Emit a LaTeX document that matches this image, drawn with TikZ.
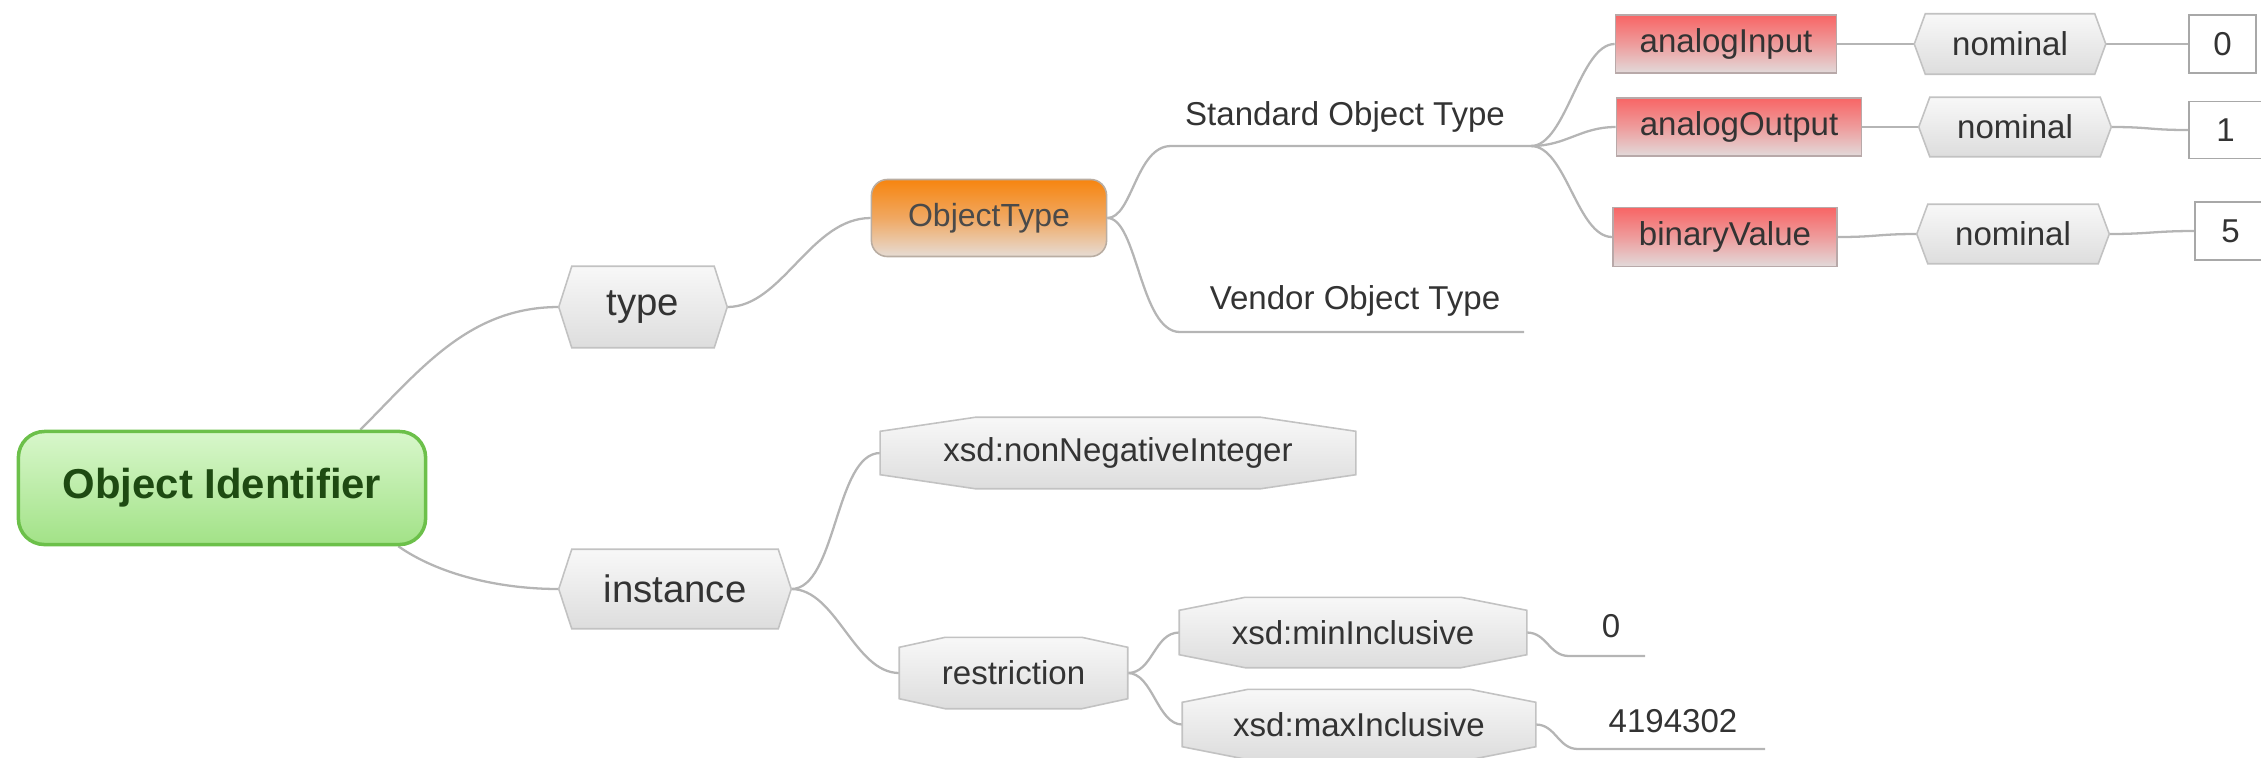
\documentclass[tikz,border=0pt]{standalone}
\usepackage{fontspec}
\setmainfont{Liberation Sans}
\usetikzlibrary{calc}

\pgfdeclarelayer{links}
\pgfdeclarelayer{plates}
\pgfsetlayers{links,plates,main}

\definecolor{linkgray}{HTML}{B5B5B5}
\definecolor{plateTop}{HTML}{F8F8F8}
\definecolor{plateBot}{HTML}{DDDDDD}
\definecolor{plateEdge}{HTML}{C2C2C2}
\definecolor{textgray}{HTML}{333333}
\definecolor{oiTop}{HTML}{D8F7CB}
\definecolor{oiBot}{HTML}{A2E287}
\definecolor{oiEdge}{HTML}{6CC04A}
\definecolor{oiText}{HTML}{1E4A12}
\definecolor{otTop}{HTML}{F7850F}
\definecolor{otMid}{HTML}{F0A862}
\definecolor{otBot}{HTML}{E6DCD4}
\definecolor{otEdge}{HTML}{B9ADA2}
\definecolor{otText}{HTML}{4A4A4A}
\definecolor{rdTop}{HTML}{F86565}
\definecolor{rdMid}{HTML}{EE9C9C}
\definecolor{rdBot}{HTML}{E2DADA}
\definecolor{rdEdge}{HTML}{B8A9A9}
\definecolor{valEdge}{HTML}{A8A8A8}

\tikzset{
  conn/.style={draw=linkgray, line width=0.65pt},
  plate/.style={top color=plateTop, bottom color=plateBot, draw=plateEdge, line width=0.45pt},
  smallfont/.style={font=\fontsize{9.4}{11}\selectfont},
  bigfont/.style={font=\fontsize{10.9}{13}\selectfont},
  gbox/.style 2 args={rectangle, inner sep=0pt, minimum width=#1cm, minimum height=#2cm, text=textgray},
  redbox/.style 2 args={rectangle, inner sep=0pt, minimum width=#1cm, minimum height=#2cm,
    top color=rdTop, bottom color=rdBot, middle color=rdMid, draw=rdEdge, line width=0.45pt,
    text=textgray, smallfont},
  valbox/.style 2 args={rectangle, inner sep=0pt, minimum width=#1cm, minimum height=#2cm,
    fill=white, draw=valEdge, line width=0.45pt, text=textgray, smallfont},
  lbl/.style={inner sep=0pt, text=textgray, smallfont},
}

% hexagon plate with pointed left and right ends
\newcommand\hexplate[2]{%
  \begin{pgfonlayer}{plates}
  \shadedraw[plate] ($(#1.north west)+(#2,0cm)$) -- ($(#1.north east)+(-#2,0cm)$) -- (#1.east)
    -- ($(#1.south east)+(-#2,0cm)$) -- ($(#1.south west)+(#2,0cm)$) -- (#1.west) -- cycle;
  \end{pgfonlayer}}

% octagon plate with long shallow chamfers
\newcommand\octplate[3]{%
  \begin{pgfonlayer}{plates}
  \shadedraw[plate] ($(#1.north west)+(#2,0cm)$) -- ($(#1.north east)+(-#2,0cm)$)
    -- ($(#1.north east)+(0cm,-#3)$) -- ($(#1.south east)+(0cm,#3)$)
    -- ($(#1.south east)+(-#2,0cm)$) -- ($(#1.south west)+(#2,0cm)$)
    -- ($(#1.south west)+(0cm,#3)$) -- ($(#1.north west)+(0cm,-#3)$) -- cycle;
  \end{pgfonlayer}}

\begin{document}
\begin{tikzpicture}[x=0.01cm, y=-0.01cm]
\useasboundingbox (0,0) rectangle (2261,757);

% root
\node[rectangle, rounded corners=0.26cm, minimum width=4.07cm, minimum height=1.13cm,
  top color=oiTop, bottom color=oiBot, draw=oiEdge, line width=1pt, text=oiText,
  font=\fontsize{11.9}{14}\selectfont\bfseries] (oi) at (222,488) {Object Identifier};

% first level
\node[gbox={1.67}{0.80}, bigfont] (type) at (643,307) {type};
\hexplate{type}{0.13cm}
\node[gbox={2.31}{0.78}, bigfont] (instance) at (675,589) {instance};
\hexplate{instance}{0.13cm}

% object type branch
\node[rectangle, rounded corners=0.16cm, minimum width=2.35cm, minimum height=0.77cm, inner sep=0pt,
  top color=otTop, bottom color=otBot, middle color=otMid, draw=otEdge, line width=0.45pt, text=otText,
  font=\fontsize{9.1}{11}\selectfont] (objtype) at (989,218) {ObjectType};

\node[lbl] (std) at (1345,117) {Standard Object Type};
\coordinate (stdL) at (1171,146);
\coordinate (stdR) at (1531,146);
\node[lbl] (ven) at (1355,301) {Vendor Object Type};
\coordinate (venL) at (1180,332);
\coordinate (venR) at (1524,332);

\node[redbox={2.21}{0.58}] (ai) at (1726,44) {analogInput};
\node[redbox={2.45}{0.58}] (ao) at (1739,127) {analogOutput};
\node[redbox={2.24}{0.59}] (bv) at (1725,237) {binaryValue};

\node[gbox={1.90}{0.59}, smallfont] (nom1) at (2010,44) {nominal};
\hexplate{nom1}{0.11cm}
\node[gbox={1.91}{0.58}, smallfont] (nom2) at (2015,127) {nominal};
\hexplate{nom2}{0.11cm}
\node[gbox={1.91}{0.58}, smallfont] (nom3) at (2013,234) {nominal};
\hexplate{nom3}{0.11cm}

\node[valbox={0.67}{0.58}] (v0) at (2222.5,44) {0};
\node[valbox={0.73}{0.57}] (v1) at (2225.5,130) {1};
\node[valbox={0.71}{0.58}] (v5) at (2230.5,231) {5};

% instance branch
\node[gbox={4.74}{0.70}, smallfont] (nonneg) at (1118,453) {xsd:nonNegativeInteger};
\octplate{nonneg}{0.95cm}{0.14cm}
\node[gbox={2.27}{0.70}, smallfont] (restr) at (1013.5,673) {restriction};
\octplate{restr}{0.46cm}{0.10cm}
\node[gbox={3.46}{0.69}, smallfont] (minin) at (1353,632.5) {xsd:minInclusive};
\octplate{minin}{0.66cm}{0.13cm}
\node[gbox={3.52}{0.69}, smallfont] (maxin) at (1359,724.5) {xsd:maxInclusive};
\octplate{maxin}{0.66cm}{0.13cm}

\node[lbl] (zero) at (1611,626) {0};
\coordinate (zeroL) at (1569,656);
\coordinate (zeroR) at (1645,656);
\node[lbl] (bigval) at (1673,721) {4194302};
\coordinate (bigL) at (1578,749);
\coordinate (bigR) at (1765,749);

% connectors
\begin{pgfonlayer}{links}
\draw[conn] ($(oi.north east)+(-0.67cm,0cm)$) .. controls +(0.6cm,0.6cm) and +(-0.9cm,0cm) .. (type.west);
\draw[conn] ($(oi.south east)+(-0.29cm,0cm)$) .. controls +(0.4cm,-0.28cm) and +(-0.6cm,0cm) .. (instance.west);
\draw[conn] (type.east) .. controls +(0.55cm,0cm) and +(-0.6cm,0cm) .. (objtype.west);
\draw[conn] (objtype.east) .. controls +(0.25cm,0cm) and +(-0.35cm,0cm) .. (stdL) -- (stdR);
\draw[conn] (objtype.east) .. controls +(0.3cm,0cm) and +(-0.4cm,0cm) .. (venL) -- (venR);
\draw[conn] (stdR) .. controls +(0.35cm,0cm) and +(-0.35cm,0cm) .. (ai.west);
\draw[conn] (stdR) .. controls +(0.35cm,0cm) and +(-0.35cm,0cm) .. (ao.west);
\draw[conn] (stdR) .. controls +(0.35cm,0cm) and +(-0.35cm,0cm) .. (bv.west);
\draw[conn] (ai.east) -- (nom1.west);
\draw[conn] (ao.east) -- (nom2.west);
\draw[conn] (bv.east) .. controls +(0.4cm,0cm) and +(-0.4cm,0cm) .. (nom3.west);
\draw[conn] (nom1.east) -- (v0.west);
\draw[conn] (nom2.east) .. controls +(0.4cm,0cm) and +(-0.4cm,0cm) .. (v1.west);
\draw[conn] (nom3.east) .. controls +(0.4cm,0cm) and +(-0.4cm,0cm) .. (v5.west);
\draw[conn] (instance.east) .. controls +(0.45cm,0cm) and +(-0.45cm,0cm) .. (nonneg.west);
\draw[conn] (instance.east) .. controls +(0.45cm,0cm) and +(-0.45cm,0cm) .. (restr.west);
\draw[conn] (restr.east) .. controls +(0.25cm,0cm) and +(-0.25cm,0cm) .. (minin.west);
\draw[conn] (restr.east) .. controls +(0.25cm,0cm) and +(-0.25cm,0cm) .. (maxin.west);
\draw[conn] (minin.east) .. controls +(0.2cm,0cm) and +(-0.2cm,0cm) .. (zeroL) -- (zeroR);
\draw[conn] (maxin.east) .. controls +(0.2cm,0cm) and +(-0.2cm,0cm) .. (bigL) -- (bigR);
\end{pgfonlayer}
\end{tikzpicture}
\end{document}
